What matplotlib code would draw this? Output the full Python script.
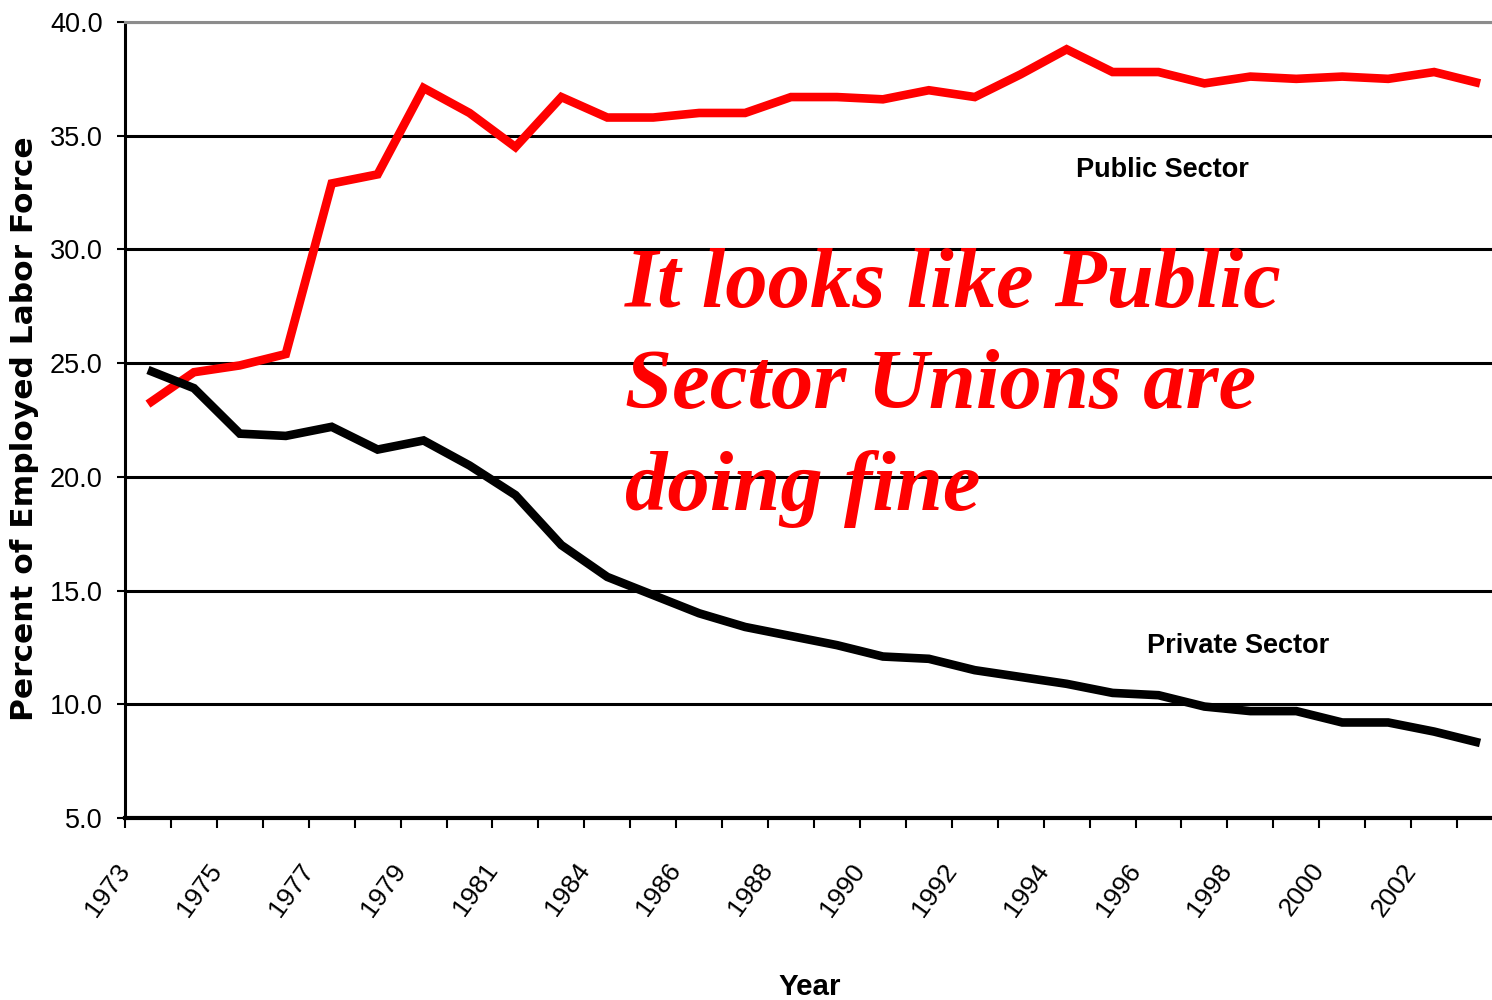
import matplotlib
matplotlib.use('Agg')
import matplotlib.pyplot as plt
from matplotlib import font_manager
from matplotlib.transforms import ScaledTranslation

# union membership, percent of employed labor force (no 1982 survey)
years = [1973, 1974, 1975, 1976, 1977, 1978, 1979, 1980, 1981,
         1983, 1984, 1985, 1986, 1987, 1988, 1989, 1990, 1991, 1992,
         1993, 1994, 1995, 1996, 1997, 1998, 1999, 2000, 2001, 2002, 2003]
public_sector = [23.2, 24.6, 24.9, 25.4, 32.9, 33.3, 37.1, 36.0, 34.5,
                 36.7, 35.8, 35.8, 36.0, 36.0, 36.7, 36.7, 36.6, 37.0, 36.7,
                 37.7, 38.8, 37.8, 37.8, 37.3, 37.6, 37.5, 37.6, 37.5, 37.8, 37.3]
private_sector = [24.7, 23.9, 21.9, 21.8, 22.2, 21.2, 21.6, 20.5, 19.2,
                  17.0, 15.6, 14.8, 14.0, 13.4, 13.0, 12.6, 12.1, 12.0, 11.5,
                  11.2, 10.9, 10.5, 10.4, 9.9, 9.7, 9.7, 9.2, 9.2, 8.8, 8.3]
y_ticks = [5, 10, 15, 20, 25, 30, 35, 40]

# condensed face if the system has it, otherwise the regular one a bit smaller
installed = {f.name for f in font_manager.fontManager.ttflist}
if 'Liberation Sans Narrow' in installed:
    narrow, shrink = 'Liberation Sans Narrow', 1.0
else:
    narrow, shrink = 'Liberation Sans', 0.85

fig = plt.figure(figsize=(14.92, 10), dpi=100)
ax = fig.add_axes([125 / 1492, 0.182, 1378 / 1492, 0.796])

x = list(range(len(years)))
ax.plot(x, public_sector, color='#ff0000', lw=6.2, solid_capstyle='butt',
        solid_joinstyle='miter', zorder=3)
ax.plot(x, private_sector, color='black', lw=6.2, solid_capstyle='butt',
        solid_joinstyle='miter', zorder=3)

ax.set_xlim(-0.5, len(years) - 0.5)
ax.set_ylim(5, 40)

# y axis
ax.set_yticks(y_ticks)
ax.set_yticklabels([f'{v:.1f}' for v in y_ticks], family=narrow,
                   fontsize=23 * shrink)
ax.tick_params(axis='y', direction='out', length=6, width=1.5, pad=10, color='black')
ax.yaxis.grid(True, color='black', lw=2.2, zorder=1)
ax.set_axisbelow(True)

# x axis: ticks between categories, labels on every other year
ax.set_xticks([i - 0.5 for i in range(len(years) + 1)])
ax.set_xticklabels([])
ax.tick_params(axis='x', which='major', direction='out', length=7.5, width=1.5, color='black')
ax.set_xticks(x[::2], minor=True)
ax.set_xticklabels([str(y) for y in years[::2]], minor=True, fontsize=19,
                   family='Liberation Sans', rotation=54, ha='right', va='center',
                   rotation_mode='anchor')
ax.tick_params(axis='x', which='minor', length=0, pad=34.5)
shift = ScaledTranslation(-23 / 100, 0, fig.dpi_scale_trans)
for lbl in ax.get_xticklabels(minor=True):
    lbl.set_transform(lbl.get_transform() + shift)

for side in ['left', 'bottom']:
    ax.spines[side].set_color('black')
ax.spines['left'].set_linewidth(2.2)
ax.spines['bottom'].set_linewidth(3)
ax.spines['bottom'].set_zorder(4)
ax.spines['top'].set_color('#8c8c8c')
ax.spines['top'].set_linewidth(2.2)
ax.spines['right'].set_visible(False)

ax.set_ylabel('Percent of Employed Labor Force', family='DejaVu Sans',
              fontweight='bold', fontsize=22.5, va='center')
ax.yaxis.set_label_coords(-100 / 1378, (818 - 429) / 796)
ax.set_xlabel('Year', family=narrow, fontweight='bold', fontsize=25 * shrink,
              va='baseline')
ax.xaxis.set_label_coords((810 - 125) / 1378, (818 - 995) / 796)

# series labels
ax.text(20.2, 33.18, 'Public Sector', family=narrow, fontweight='bold',
        fontsize=23 * shrink, va='baseline', ha='left', zorder=5)
ax.text(21.75, 12.25, 'Private Sector', family=narrow, fontweight='bold',
        fontsize=23 * shrink, va='baseline', ha='left', zorder=5)

# baseline of the last line sits at the anchor
ax.text(10.39, 18.54, 'It looks like Public\nSector Unions are\ndoing fine',
        family='Liberation Serif', fontweight='bold', style='italic',
        fontsize=61, color='#ff0000', va='baseline', ha='left',
        linespacing=1.4, zorder=5)

fig.savefig('out.png', dpi=100)
